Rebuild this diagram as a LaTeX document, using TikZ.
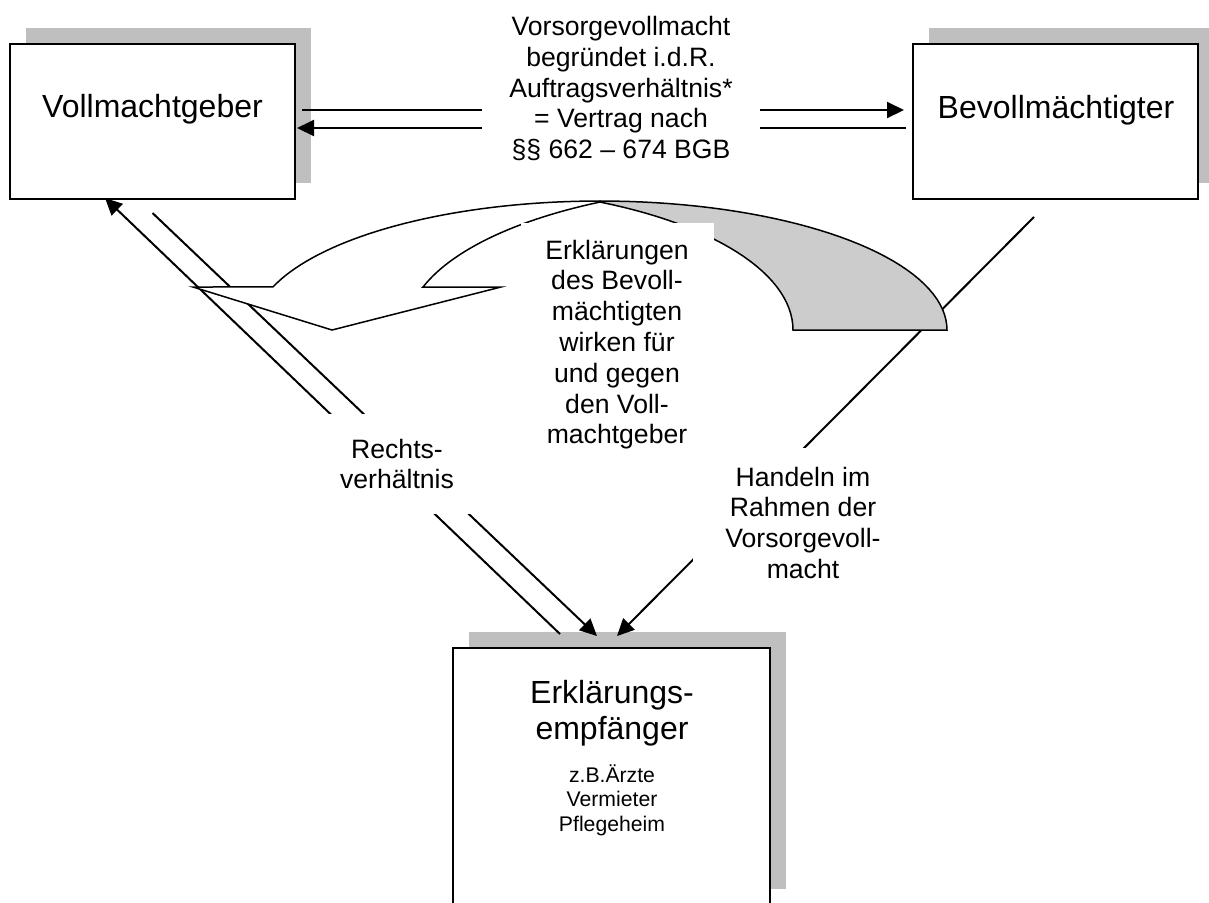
\documentclass[tikz,border=0pt]{standalone}
\usepackage{fontspec}
\setmainfont{Liberation Sans}
\usetikzlibrary{arrows.meta,shadows}
\begin{document}
\begin{tikzpicture}[x=0.5pt,y=-0.5pt,
 box/.style={draw,line width=1pt,fill=white,inner sep=0pt,
  drop shadow={shadow xshift=8pt,shadow yshift=8pt,fill=gray!50,opacity=1}},
 big/.style={font=\fontsize{16}{18}\selectfont,align=center},
 mid/.style={font=\fontsize{13.3}{15.4}\selectfont,align=center,fill=white},
 small/.style={font=\fontsize{10.6}{12.25}\selectfont,align=center},
 con/.style={line width=1pt,-{Triangle[length=8.5pt,width=8pt]}},
 curvearrow/.style={line width=0.75pt,line join=miter}]
\useasboundingbox (0,0) rectangle (1209,902);
\node[box,minimum width=142.5pt,minimum height=77.5pt] (vg) at (152.5,121) {};
\node[box,minimum width=142.5pt,minimum height=77.5pt] (bv) at (1055.5,121) {};
\node[box,minimum width=158.5pt,minimum height=128.5pt] (ee) at (611.5,776.5) {};
\node[big,anchor=base] (vgl) at (152.5,117) {Vollmachtgeber};
\node[big,anchor=base] (bvl) at (1056,118) {Bevollmächtigter};
\node[big] (eel) at (612,713) {Erklärungs-\\empfänger};
\node[small] (eex) at (612,800) {z.B.Ärzte\\Vermieter\\Pflegeheim};
\draw[con] ([xshift=3pt,yshift=5.5pt]vg.east) -- ([xshift=-4pt,yshift=5.5pt]bv.west);
\draw[con] ([xshift=-3pt,yshift=-3.5pt]bv.west) -- ([xshift=0.5pt,yshift=-3.5pt]vg.east);
\draw[con] ([xshift=-25.75pt,yshift=6.5pt]ee.north) -- ([xshift=-23.75pt,yshift=0.75pt]vg.south);
\draw[con] ([yshift=-6.75pt]vg.south) -- ([xshift=-7.25pt,yshift=5.5pt]ee.north);
\draw[con] ([xshift=-10.75pt,yshift=-8.75pt]bv.south) -- ([xshift=2.75pt,yshift=5.5pt]ee.north);
\filldraw[curvearrow,fill=black!20] plot[domain=90:0,samples=40,variable=\t] ({600+347*cos(\t)},{330-129*sin(\t)})
 -- (793,330) -- plot[domain=0:64.07,samples=30,variable=\t] ({450+343*cos(\t)},{330-142.3*sin(\t)}) -- cycle;
\filldraw[curvearrow,fill=white] plot[domain=90:160.5,samples=40,variable=\t] ({600+347*cos(\t)},{330-129*sin(\t)})
 -- (193,287) -- (332,330) -- (501,287) -- (423,287)
 -- plot[domain=162.7:118,samples=30,variable=\t] ({771.6+365*cos(\t)},{330-145*sin(\t)}) -- cycle;
\node[mid,minimum width=139pt] (auftrag) at (621,88.5) {Vorsorgevollmacht\\begründet i.d.R.\\Auftragsverhältnis*\\= Vertrag nach\\§§ 662 – 674 BGB};
\node[mid,minimum width=72.5pt,minimum height=50pt] (recht) at (397,464) {Rechts-\\verhältnis};
\node[mid,anchor=north,minimum width=110pt,inner ysep=9.25pt] (handeln) at (803,448) {Handeln im\\Rahmen der\\Vorsorgevoll-\\macht};
\node[mid,anchor=north,minimum width=96.5pt,inner ysep=8.25pt] (erkl) at (617,223) {Erklärungen\\des Bevoll-\\mächtigten\\wirken für\\und gegen\\den Voll-\\machtgeber};
\end{tikzpicture}
\end{document}
